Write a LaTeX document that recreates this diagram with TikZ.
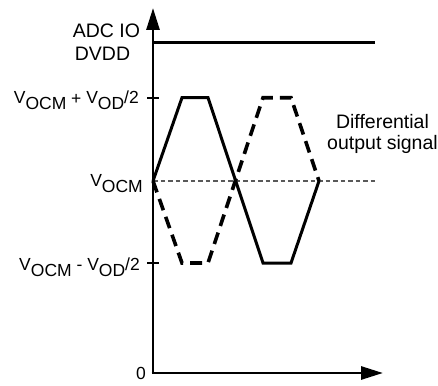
\documentclass[tikz,border=0pt]{standalone}
\usepackage{fontspec}
\setmainfont{Liberation Sans}
\usetikzlibrary{arrows.meta}
\newcommand\vsub[1]{\raisebox{-6pt}{#1}}
\begin{document}
\begin{tikzpicture}[x=1pt,y=-1pt,
  axisline/.style={line width=2.8pt},
  axisarrow/.style={axisline,-{Triangle[length=22pt,width=13pt]}},
  solidsig/.style={line width=3pt,line join=miter},
  dashsig/.style={line width=3.6pt,dash pattern=on 12pt off 7pt},
  midline/.style={line width=1.3pt,gray!70!black,dash pattern=on 4.5pt off 3pt},
  lab/.style={inner sep=0pt,font=\fontsize{17.5}{19}\selectfont},
  biglab/.style={inner sep=0pt,font=\fontsize{19.5}{22}\selectfont},
  tick/.style={line width=2.2pt}]
\useasboundingbox (0,0) rectangle (438,385);
% axes
\coordinate (org) at (153,373);
\coordinate (ytip) at (153,8);
\coordinate (xtip) at (383,373);
\draw[axisarrow] (org) -- (ytip);
\draw[axisarrow] ([xshift=-1.4pt]org) -- (xtip);
% DVDD line
\coordinate (dl) at (153,42.5);
\coordinate (dr) at (375,42.5);
\draw[axisline] (dl) -- (dr);
% VOCM line
\coordinate (ml) at (153,181);
\coordinate (mr) at (375,181);
\draw[midline] (ml) -- (mr);
% ticks
\coordinate (t1l) at (147,97.7); \coordinate (t1r) at (159,97.7);
\coordinate (t2l) at (147,263); \coordinate (t2r) at (159,263);
\draw[tick] (t1l) -- (t1r);
\draw[tick] (t2l) -- (t2r);
% signals
\draw[solidsig] (153,181) -- (182,97.7) -- (208,97.7) -- (263,263) -- (291,263) -- (319,181);
\draw[dashsig] (153,181) -- (182,263) -- (208,263) -- (263,97.7) -- (291,97.7) -- (319,181);
% labels
\node[biglab,anchor=base] (adc) at (106.5,38) {ADC IO};
\node[biglab,anchor=base] (dvdd) at (102.5,61) {DVDD};
\node[lab,anchor=base east] (vhi) at (139,103) {V\vsub{OCM} \raisebox{-1.5pt}{+} V\vsub{OD}/2};
\node[lab,anchor=base east] (vocm) at (143,186) {V\vsub{OCM}};
\node[lab,anchor=base east] (vlo) at (140,270) {V\vsub{OCM} - V\vsub{OD}/2};
\node[lab,anchor=base east] (zero) at (146,379.5) {0};
\node[biglab,anchor=base] (diff1) at (382.5,128) {Differential};
\node[biglab,anchor=base] (diff2) at (382.5,149) {output signal};
\end{tikzpicture}
\end{document}
